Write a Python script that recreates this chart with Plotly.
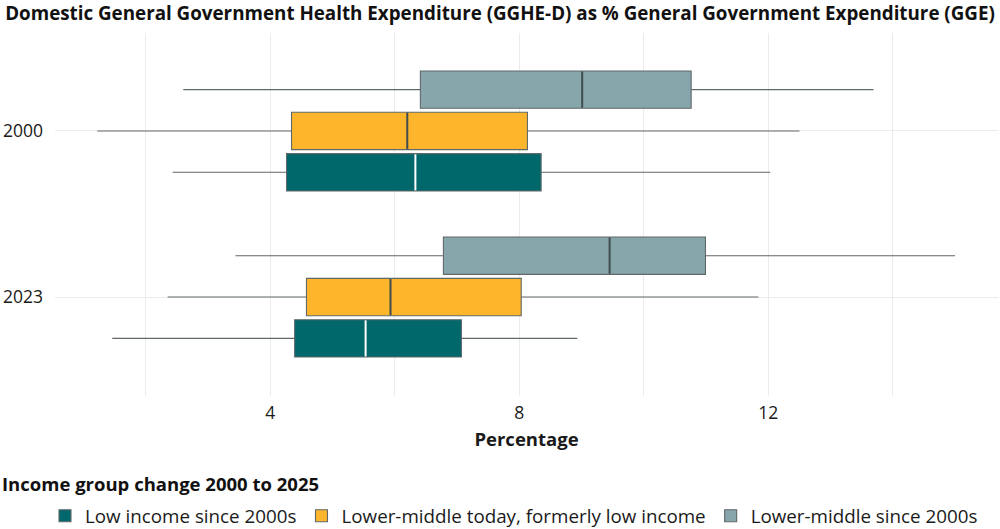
import plotly.graph_objects as go

# ---- data ----
years = ["2000", "2023"]
groups = [
    "Low income since 2000s",
    "Lower-middle today, formerly low income",
    "Lower-middle since 2000s",
]
# each list: [2000, 2023]
low_whisker = [[2.43, 1.46], [1.22, 2.35], [2.60, 3.44]]
q1_vals = [[4.26, 4.39], [4.34, 4.58], [6.41, 6.78]]
median_vals = [[6.33, 5.53], [6.20, 5.93], [9.01, 9.45]]
q3_vals = [[8.35, 7.07], [8.13, 8.03], [10.76, 10.99]]
high_whisker = [[12.03, 8.93], [12.50, 11.84], [13.69, 15.00]]

# ---- styling ----
fill_colors = ["#00686B", "#FDB52B", "#86A6AC"]
median_colors = ["#FFFFFF", "#434D50", "#434D50"]
outline_color = "#60686A"
grid_color = "#EBEBEB"
font_family = "Open Sans"
year_pos = [1, 0]           # 2000 on top, 2023 below
group_offsets = [-0.249, 0.0, 0.249]
box_width = 0.225

W, H = 1000, 529
ML, MR, MT, MB = 55, 2, 33, 133
PH = H - MT - MB
PW = W - ML - MR

fig = go.Figure()
for g, name in enumerate(groups):
    ys = [p + group_offsets[g] for p in year_pos]
    fig.add_trace(go.Box(
        y=ys,
        q1=q1_vals[g], median=median_vals[g], q3=q3_vals[g],
        lowerfence=low_whisker[g], upperfence=high_whisker[g],
        orientation="h", name=name,
        fillcolor=fill_colors[g],
        line=dict(color=outline_color, width=1.1),
        whiskerwidth=0, width=box_width,
        boxpoints=False,
    ))

for g in range(len(groups)):
    xs, ys = [], []
    for i, p in enumerate(year_pos):
        c = p + group_offsets[g]
        m = median_vals[g][i]
        xs += [m, m, None]
        ys += [c - box_width / 2 + 0.004, c + box_width / 2 - 0.004, None]
    fig.add_trace(go.Scatter(x=xs, y=ys, mode="lines",
                             line=dict(color=median_colors[g], width=2),
                             showlegend=False, hoverinfo="skip"))

fig.update_layout(
    width=W, height=H,
    margin=dict(l=ML, r=MR, t=MT, b=MB),
    paper_bgcolor="white", plot_bgcolor="white",
    font=dict(family=font_family, color="#1a1a1a", size=16),
    title=dict(
        text="<b>Domestic General Government Health Expenditure (GGHE-D) as % General Government Expenditure (GGE)</b>",
        x=0.5, xref="container", xanchor="center",
        y=1 - 13 / H, yref="container", yanchor="middle",
        font=dict(size=18.8, family=font_family, color="#111"),
    ),
    showlegend=True,
    legend=dict(
        orientation="h",
        xref="container", yref="container",
        x=45 / W, xanchor="left",
        y=(H - 516) / H, yanchor="middle",
        font=dict(size=18.8),
        traceorder="normal",
        itemwidth=30,
    ),
    annotations=[dict(
        text="<b>Income group change 2000 to 2025</b>",
        xref="paper", yref="paper",
        x=-ML / PW, xanchor="left",
        y=(MT + PH - 483) / PH, yanchor="middle",
        showarrow=False, font=dict(size=18.5, color="#111"),
    )],
)

fig.update_xaxes(
    range=[0.54, 15.69],
    tickvals=[4, 8, 12], ticktext=["4", "8", "12"],
    showgrid=True, gridcolor=grid_color, gridwidth=1.2,
    minor=dict(tick0=0, dtick=2, showgrid=True, gridcolor=grid_color, gridwidth=1.2),
    zeroline=False, showline=False, ticks="",
    title=dict(text="<b>Percentage</b>", font=dict(size=18.5), standoff=10),
    tickfont=dict(size=17.5),
    ticklabelstandoff=4,
    automargin=False,
)
fig.update_yaxes(
    range=[-0.596, 1.59],
    tickvals=year_pos, ticktext=years,
    showgrid=True, gridcolor=grid_color, gridwidth=1.2,
    zeroline=False, showline=False, ticks="",
    tickfont=dict(size=17.5),
    ticklabelstandoff=11,
    automargin=False,
)

fig.write_html("out.html", post_script="document.body.style.margin='0';",
               config={"displayModeBar": False})
